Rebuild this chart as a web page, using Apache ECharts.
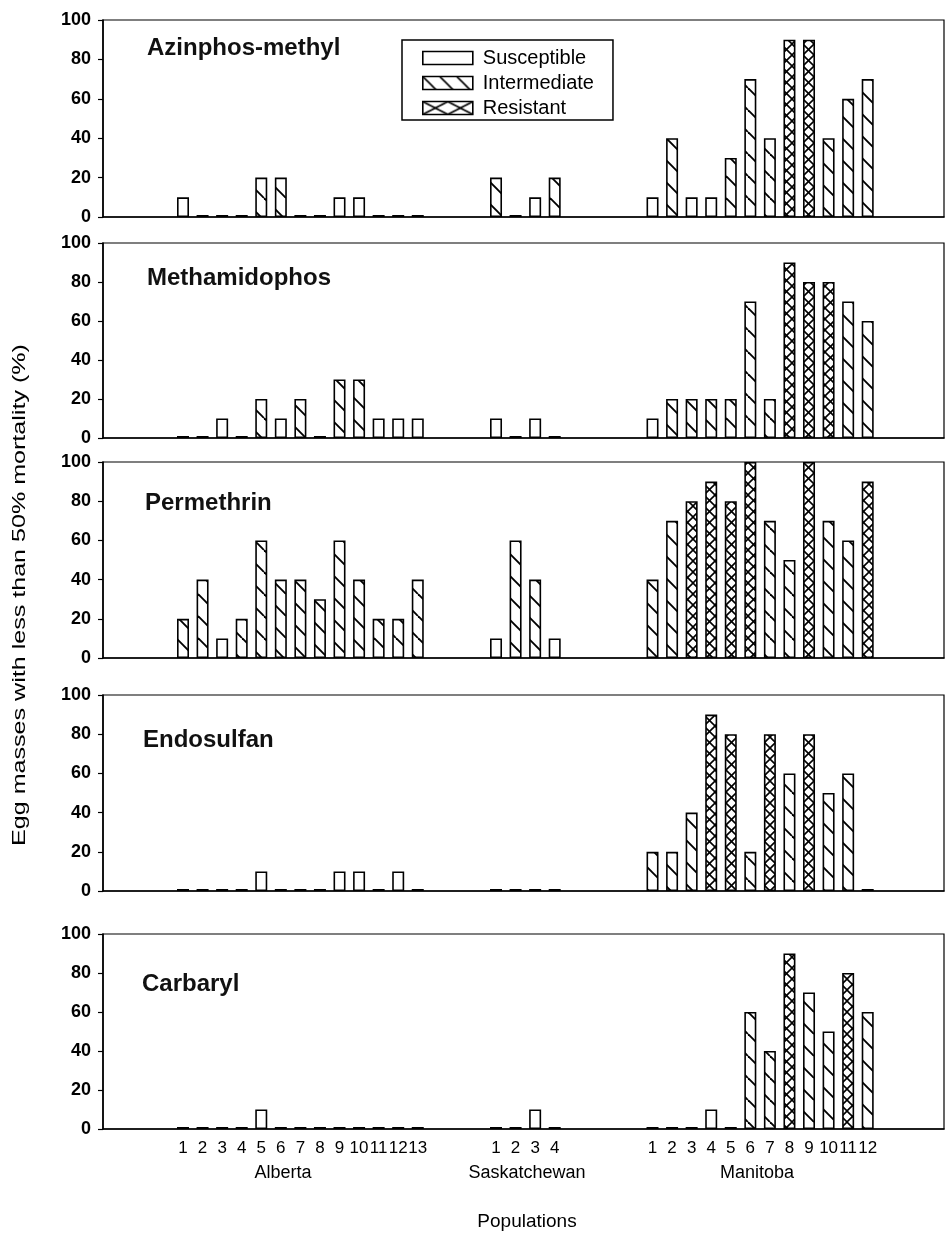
<!DOCTYPE html>
<html><head><meta charset="utf-8">
<script src="https://cdn.jsdelivr.net/npm/echarts@6/dist/echarts.min.js"></script>
<style>html,body{margin:0;padding:0;background:#fff}#c{width:945px;height:1243px}</style>
</head><body><div id="c"></div>
<script>
// ---- data ----
const insecticides = ['Azinphos-methyl', 'Methamidophos', 'Permethrin', 'Endosulfan', 'Carbaryl'];
const regions = ['Alberta', 'Saskatchewan', 'Manitoba'];
const albertaPops = ['1','2','3','4','5','6','7','8','9','10','11','12','13'];
const saskPops = ['1','2','3','4'];
const manitobaPops = ['1','2','3','4','5','6','7','8','9','10','11','12'];
const classNames = { S: 'Susceptible', I: 'Intermediate', R: 'Resistant' };

// % egg masses with <50% mortality, per region
const azinphosAB = [10,0,0,0,20,20,0,0,10,10,0,0,0];
const azinphosSK = [20,0,10,20];
const azinphosMB = [10,40,10,10,30,70,40,90,90,40,60,70];
const azinphosCls = ['SSSSIISSSSSSS', 'ISSI', 'SISSIIIRRIII'];

const methamAB = [0,0,10,0,20,10,20,0,30,30,10,10,10];
const methamSK = [10,0,10,0];
const methamMB = [10,20,20,20,20,70,20,90,80,80,70,60];
const methamCls = ['SSSSISISIISSS', 'SSSS', 'SIIIIIIRRRII'];

const permAB = [20,40,10,20,60,40,40,30,60,40,20,20,40];
const permSK = [10,60,40,10];
const permMB = [40,70,80,90,80,100,70,50,100,70,60,90];
const permCls = ['IISIIIIIIIIII', 'SIIS', 'IIRRRRIIRIIR'];

const endoAB = [0,0,0,0,10,0,0,0,10,10,0,10,0];
const endoSK = [0,0,0,0];
const endoMB = [20,20,40,90,80,20,80,60,80,50,60,0];
const endoCls = ['SSSSSSSSSSSSS', 'SSSS', 'IIIRRIRIRIIS'];

const carbAB = [0,0,0,0,10,0,0,0,0,0,0,0,0];
const carbSK = [0,0,10,0];
const carbMB = [0,0,0,10,0,60,40,90,70,50,80,60];
const carbCls = ['SSSSSSSSSSSSS', 'SSSS', 'SSSSSIIRIIRI'];

// ---- layout ----
const panelValues = [
  [azinphosAB, azinphosSK, azinphosMB],
  [methamAB, methamSK, methamMB],
  [permAB, permSK, permMB],
  [endoAB, endoSK, endoMB],
  [carbAB, carbSK, carbMB]
];
const panelCls = [azinphosCls, methamCls, permCls, endoCls, carbCls];
const regionPops = [albertaPops, saskPops, manitobaPops];
const regionStart = [1, 17, 25];          // slot index of first population in each region
const gridTops = [20, 243, 462, 695, 934];
const gridHeights = [197, 195, 196, 196, 195];
const titleY = [48, 278, 503, 740, 984];
const titleX = [147, 147, 145, 143, 142];

function makePattern(w, h, dirs, lw) {
  const c = document.createElement('canvas');
  c.width = w; c.height = h;
  const g = c.getContext('2d');
  g.fillStyle = '#fff'; g.fillRect(0, 0, w, h);
  g.strokeStyle = '#000'; g.lineWidth = lw;
  for (const k of [-w, 0, w]) {
    if (dirs.includes('\\')) { g.beginPath(); g.moveTo(k, 0); g.lineTo(k + w, h); g.stroke(); }
    if (dirs.includes('/')) { g.beginPath(); g.moveTo(k + w, 0); g.lineTo(k, h); g.stroke(); }
  }
  return { image: c, repeat: 'repeat' };
}
const fills = {
  S: '#ffffff',
  I: makePattern(22, 22, '\\', 1.9),
  R: makePattern(11, 11, '\\/', 1.6)
};
const legendFills = {
  S: '#ffffff',
  I: makePattern(17, 17, '\\', 1.6),
  R: makePattern(25, 13, '\\/', 1.6)
};

const posLabel = {};
regionPops.forEach((pops, r) => pops.forEach((p, i) => { posLabel[regionStart[r] + i] = p; }));
const labelPositions = Object.keys(posLabel).map(Number);

const FONT = 'Liberation Sans, Arial, sans-serif';
const grids = [], xAxes = [], yAxes = [], series = [], titles = [];
for (let p = 0; p < 5; p++) {
  grids.push({ left: 103, width: 841, top: gridTops[p], height: gridHeights[p],
    show: true, borderColor: '#000', borderWidth: 1.2, backgroundColor: 'transparent' });
  xAxes.push({
    type: 'value', gridIndex: p, min: -3.09, max: 39.9,
    axisLine: { show: true, onZero: false, lineStyle: { color: '#000', width: 1.5 } },
    axisTick: { show: false }, splitLine: { show: false },
    axisLabel: p === 4 ? {
      show: true, customValues: labelPositions, formatter: v => posLabel[v] || '',
      color: '#000', fontSize: 17, fontFamily: FONT, margin: 11
    } : { show: false }
  });
  yAxes.push({
    type: 'value', gridIndex: p, min: 0, max: 100, interval: 20,
    axisLine: { show: true, onZero: false, lineStyle: { color: '#000', width: 1.6 } },
    axisTick: { show: true, inside: false, length: 5, lineStyle: { color: '#000', width: 1.2 } },
    splitLine: { show: false },
    axisLabel: { color: '#000', fontSize: 18, fontWeight: 'bold', fontFamily: FONT, margin: 12 }
  });
  titles.push({ text: insecticides[p], left: titleX[p] - 5, top: titleY[p] - 17,
    textStyle: { fontSize: 24, fontWeight: 'bold', color: '#111', fontFamily: FONT } });
  for (const k of ['S', 'I', 'R']) {
    const data = [];
    panelValues[p].forEach((vals, r) => vals.forEach((v, i) => {
      if (panelCls[p][r][i] === k) data.push([regionStart[r] + i, v]);
    }));
    series.push({
      type: 'bar', name: classNames[k], xAxisIndex: p, yAxisIndex: p, data,
      barWidth: 12, barGap: '-100%', barMinHeight: 2, silent: true,
      itemStyle: { color: fills[k], borderColor: '#000', borderWidth: 1.6 },
      emphasis: { disabled: true }
    });
  }
}

const txt = (x, y, text, extra, size) => Object.assign({ type: 'text', x, y,
  style: { text, fill: '#000', font: (size || 18) + 'px "Liberation Sans", Arial', align: 'center', verticalAlign: 'middle' } }, extra || {});

const option = {
  animation: false,
  backgroundColor: '#fff',
  title: titles,
  grid: grids, xAxis: xAxes, yAxis: yAxes, series,
  legend: {
    data: ['S', 'I', 'R'].map(k => ({ name: classNames[k], itemStyle: { color: legendFills[k], borderColor: '#000', borderWidth: 1.6 } })),
    orient: 'vertical', left: 402, top: 40,
    itemWidth: 50, itemHeight: 13, itemGap: 5,
    padding: [8, 19, 2, 20],
    borderColor: '#000', borderWidth: 1.5,
    selectedMode: false,
    icon: 'rect',
    textStyle: { fontSize: 20, color: '#000', fontFamily: FONT, padding: [0, 0, 0, 5] }
  },
  graphic: [
    txt(283, 1173, regions[0]),
    txt(527, 1173, regions[1]),
    txt(757, 1173, regions[2]),
    txt(527, 1222, 'Populations', null, 19),
    txt(20, 595, 'Egg masses with less than 50% mortality (%)', { rotation: Math.PI / 2, scaleX: 1.32 }, 19)
  ]
};
echarts.init(document.getElementById('c'), null, { renderer: 'canvas' }).setOption(option);
</script></body></html>
